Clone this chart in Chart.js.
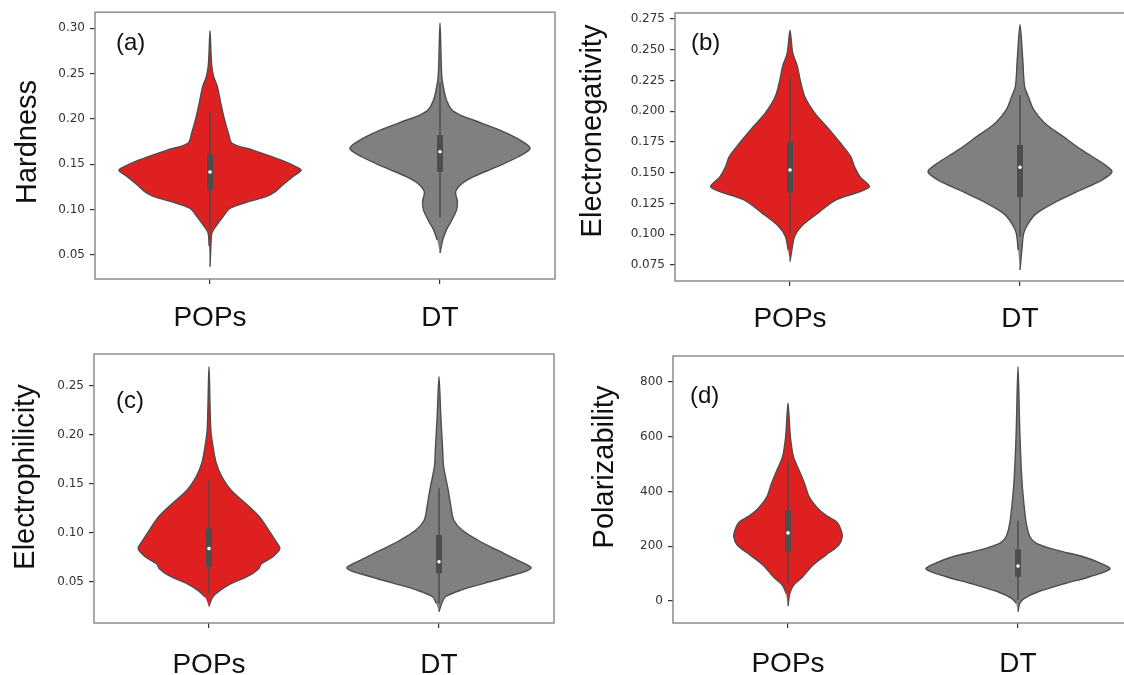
<!DOCTYPE html>
<html>
<head>
<meta charset="utf-8">
<title>Violin plots: POPs vs DT</title>
<script src="https://cdn.jsdelivr.net/npm/chart.js@4.4.1/dist/chart.umd.min.js"></script>
<style>
  html, body { margin: 0; padding: 0; background: #fff; overflow: hidden; }
  body { width: 1124px; height: 675px; position: relative; }
  canvas { position: absolute; }
</style>
</head>
<body>
<canvas id="chartA" width="560" height="337" style="left:0;top:0"></canvas>
<canvas id="chartB" width="575" height="337" style="left:565px;top:0"></canvas>
<canvas id="chartC" width="560" height="338" style="left:0;top:337px"></canvas>
<canvas id="chartD" width="575" height="338" style="left:565px;top:337px"></canvas>
<script>
const categories = ["POPs", "DT"];

// violin outlines: [value, relative density] from the bottom tip to the top tip
const hardnessPOPs = [[0.037, 0], [0.060, 0.01], [0.074, 0.02], [0.081, 0.06], [0.092, 0.14], [0.1015, 0.22], [0.1088, 0.42], [0.1143, 0.61], [0.1199, 0.71], [0.1272, 0.79], [0.1364, 0.9], [0.143, 0.99], [0.1456, 0.97], [0.1548, 0.77], [0.1658, 0.46], [0.1732, 0.24], [0.1842, 0.2], [0.2026, 0.15], [0.221, 0.11], [0.2357, 0.08], [0.2467, 0.04], [0.2577, 0.02], [0.275, 0.01], [0.2974, 0]];
const hardnessDT = [[0.052, 0], [0.0666, 0.03], [0.0777, 0.07], [0.0887, 0.13], [0.0997, 0.18], [0.1088, 0.19], [0.1198, 0.17], [0.1289, 0.24], [0.1362, 0.36], [0.1473, 0.62], [0.1583, 0.85], [0.1675, 0.98], [0.1767, 0.87], [0.1877, 0.65], [0.1988, 0.36], [0.2043, 0.22], [0.2098, 0.13], [0.2209, 0.07], [0.2319, 0.043], [0.2466, 0.02], [0.275, 0.01], [0.3055, 0]];
const electronegPOPs = [[0.0777, 0], [0.0872, 0.02], [0.0981, 0.05], [0.1062, 0.12], [0.117, 0.3], [0.1279, 0.5], [0.1382, 0.86], [0.1469, 0.76], [0.155, 0.70], [0.1632, 0.66], [0.174, 0.55], [0.1849, 0.43], [0.1985, 0.27], [0.212, 0.16], [0.2256, 0.11], [0.2365, 0.08], [0.2473, 0.03], [0.2658, 0]];
const electronegDT = [[0.0709, 0], [0.0871, 0.02], [0.1007, 0.04], [0.1089, 0.09], [0.117, 0.18], [0.1252, 0.36], [0.1346, 0.62], [0.1441, 0.89], [0.1509, 1.0], [0.1577, 0.9], [0.1686, 0.67], [0.1794, 0.47], [0.1903, 0.27], [0.2011, 0.15], [0.212, 0.09], [0.2201, 0.05], [0.2418, 0.03], [0.2703, 0]];
const electrophPOPs = [[0.0251, 0], [0.0347, 0.04], [0.0415, 0.12], [0.0483, 0.24], [0.0568, 0.44], [0.0636, 0.54], [0.0687, 0.57], [0.0756, 0.69], [0.0841, 0.77], [0.0926, 0.72], [0.1028, 0.65], [0.1164, 0.55], [0.1301, 0.40], [0.1437, 0.24], [0.1573, 0.14], [0.171, 0.08], [0.1846, 0.05], [0.205, 0.02], [0.2698, 0]];
const electrophDT = [[0.0197, 0], [0.0283, 0.03], [0.035, 0.07], [0.0418, 0.24], [0.0487, 0.49], [0.0554, 0.74], [0.064, 1.0], [0.0724, 0.85], [0.0827, 0.63], [0.0929, 0.42], [0.1031, 0.25], [0.1133, 0.16], [0.1268, 0.13], [0.1439, 0.10], [0.1677, 0.05], [0.1847, 0.04], [0.2187, 0.02], [0.2595, 0]];
const polarPOPs = [[-18, 0], [28, 0.02], [58, 0.06], [89, 0.16], [131, 0.27], [168, 0.41], [204, 0.55], [235, 0.59], [265, 0.57], [289, 0.53], [314, 0.41], [344, 0.31], [381, 0.23], [429, 0.18], [478, 0.12], [526, 0.06], [587, 0.03], [624, 0.02], [723, 0]];
const polarDT = [[-39, 0], [-8, 0.02], [10, 0.07], [34, 0.22], [65, 0.52], [89, 0.78], [117, 1.0], [138, 0.9], [162, 0.71], [186, 0.42], [211, 0.2], [235, 0.13], [284, 0.09], [369, 0.06], [454, 0.04], [613, 0.02], [856, 0]];

// inner boxes: [low whisker, Q1, median, Q3, high whisker]
const hardnessBoxes = [[0.078, 0.1217, 0.1415, 0.1614, 0.207], [0.0917, 0.1417, 0.1638, 0.1822, 0.240]];
const electronegBoxes = [[0.1008, 0.1339, 0.1523, 0.1754, 0.2289], [0.098, 0.1301, 0.1545, 0.1726, 0.2134]];
const electrophBoxes = [[0.038, 0.0653, 0.0841, 0.1045, 0.1539], [0.028, 0.0589, 0.0707, 0.098, 0.1456]];
const polarBoxes = [[64, 180, 249, 332, 514], [4, 89, 128, 189, 293]];

// tick labels
const hardnessTicks = [0.05, 0.10, 0.15, 0.20, 0.25, 0.30];
const electronegTicks = [0.075, 0.100, 0.125, 0.150, 0.175, 0.200, 0.225, 0.250, 0.275];
const electrophTicks = [0.05, 0.10, 0.15, 0.20, 0.25];
const polarTicks = [0, 200, 400, 600, 800];

const fills = ["#df2020", "#808080"];
const EDGE = "#4d4d4d";
const HALF = 0.4;

const panels = [
  { id: "chartA", title: "Hardness", letter: "(a)", violins: [hardnessPOPs, hardnessDT], boxes: hardnessBoxes,
    ticks: hardnessTicks, decimals: 2, min: 0.0235, max: 0.3177,
    pad: { left: 0, top: 12, right: 5 }, yWidth: 95, xHeight: 58, xPad: 17,
    titleX: 36, titleY: 142, letterDx: 21, letterDy: 38 },
  { id: "chartB", title: "Electronegativity", letter: "(b)", violins: [electronegPOPs, electronegDT], boxes: electronegBoxes,
    ticks: electronegTicks, decimals: 3, min: 0.062, max: 0.2799,
    pad: { left: 0, top: 13, right: 5 }, yWidth: 110, xHeight: 56, xPad: 16,
    titleX: 36, titleY: 131, letterDx: 16, letterDy: 37 },
  { id: "chartC", title: "Electrophilicity", letter: "(c)", violins: [electrophPOPs, electrophDT], boxes: electrophBoxes,
    ticks: electrophTicks, decimals: 2, min: 0.0082, max: 0.2827,
    pad: { left: 0, top: 17, right: 6 }, yWidth: 94, xHeight: 52, xPad: 20,
    titleX: 34, titleY: 140, letterDx: 22, letterDy: 54 },
  { id: "chartD", title: "Polarizability", letter: "(d)", violins: [polarPOPs, polarDT], boxes: polarBoxes,
    ticks: polarTicks, decimals: 0, min: -80, max: 895,
    pad: { left: 0, top: 19, right: 7 }, yWidth: 108, xHeight: 52, xPad: 19,
    titleX: 48, titleY: 130, letterDx: 17, letterDy: 47 }
];

// frame, panel letter and rotated y title
const panelDecor = {
  id: "panelDecor",
  afterDraw(chart, args, opts) {
    const { ctx, chartArea: a } = chart;
    ctx.save();
    ctx.strokeStyle = "#8c8c8c";
    ctx.lineWidth = 1.5;
    ctx.strokeRect(a.left, a.top, a.right - a.left, a.bottom - a.top);
    ctx.fillStyle = "#111";
    ctx.textBaseline = "alphabetic";
    ctx.textAlign = "left";
    ctx.font = "24px 'Liberation Sans', Arial, sans-serif";
    ctx.fillText(opts.letter, a.left + opts.letterDx, a.top + opts.letterDy);
    ctx.translate(opts.titleX, opts.titleY);
    ctx.rotate(-Math.PI / 2);
    ctx.textAlign = "center";
    ctx.font = "29px 'Liberation Sans', Arial, sans-serif";
    ctx.fillText(opts.title, 0, 0);
    ctx.restore();
  }
};

function buildDatasets(p) {
  const sets = [];
  p.violins.forEach((prof, i) => {
    const right = prof.map(([v, d]) => ({ x: i + HALF * d, y: v }));
    const left = prof.slice(1, -1).reverse().map(([v, d]) => ({ x: i - HALF * d, y: v }));
    sets.push({
      data: right.concat(left), showLine: true, fill: "shape",
      backgroundColor: fills[i], borderColor: EDGE, borderWidth: 1.4,
      pointRadius: 0, tension: 0.3, order: 4
    });
  });
  p.boxes.forEach((b, i) => {
    sets.push({ data: [{ x: i, y: b[0] }, { x: i, y: b[4] }], showLine: true, borderColor: EDGE, borderWidth: 1.5, pointRadius: 0, order: 3 });
    sets.push({ data: [{ x: i, y: b[1] }, { x: i, y: b[3] }], showLine: true, borderColor: EDGE, borderWidth: 6, borderCapStyle: "butt", pointRadius: 0, order: 2 });
    sets.push({ data: [{ x: i, y: b[2] }], pointRadius: 1.8, pointBackgroundColor: "#ffffff", pointBorderWidth: 0, order: 1 });
  });
  return sets;
}

panels.forEach((p) => {
  const ctx = document.getElementById(p.id).getContext("2d");
  new Chart(ctx, {
    type: "scatter",
    data: { datasets: buildDatasets(p) },
    options: {
      responsive: false,
      animation: false,
      layout: { padding: { left: p.pad.left, top: p.pad.top, right: p.pad.right, bottom: 0 } },
      plugins: {
        legend: { display: false },
        tooltip: { enabled: false },
        panelDecor: { title: p.title, letter: p.letter, titleX: p.titleX, titleY: p.titleY, letterDx: p.letterDx, letterDy: p.letterDy }
      },
      scales: {
        x: {
          type: "linear", min: -0.5, max: 1.5,
          afterBuildTicks: (scale) => { scale.ticks = categories.map((c, i) => ({ value: i })); },
          afterFit: (scale) => { scale.height = p.xHeight; },
          border: { display: false },
          grid: { drawOnChartArea: false, drawTicks: true, tickLength: 5, tickColor: "#333", lineWidth: 1.2 },
          ticks: {
            autoSkip: false, maxRotation: 0, padding: p.xPad, color: "#111",
            font: { family: "'Liberation Sans', Arial, sans-serif", size: 28 },
            callback: (v) => categories[v]
          }
        },
        y: {
          type: "linear", min: p.min, max: p.max,
          afterBuildTicks: (scale) => { scale.ticks = p.ticks.map((v) => ({ value: v })); },
          afterFit: (scale) => { scale.width = p.yWidth; },
          border: { display: false },
          grid: { drawOnChartArea: false, drawTicks: true, tickLength: 5, tickColor: "#333", lineWidth: 1.2 },
          ticks: {
            autoSkip: false, padding: 5, color: "#333",
            font: { family: "'DejaVu Sans', sans-serif", size: 12 },
            callback: (v) => Number(v).toFixed(p.decimals)
          }
        }
      }
    },
    plugins: [panelDecor]
  });
});
</script>
</body>
</html>
